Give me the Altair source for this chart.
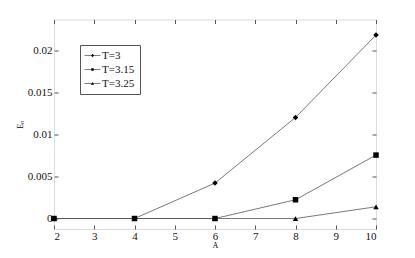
import altair as alt
import pandas as pd

A_values = [2, 4, 6, 8, 10]
series_names = ["T=3", "T=3.15", "T=3.25"]
E_T3 = [0.0, 0.0, 0.00423, 0.01206, 0.0219]
E_T315 = [0.0, 0.0, 0.0, 0.00224, 0.00757]
E_T325 = [0.0, 0.0, 0.0, 0.0, 0.0014]
x_ticks = [2, 3, 4, 5, 6, 7, 8, 9, 10]
y_ticks = [0, 0.005, 0.01, 0.015, 0.02]

rows = []
for name, vals in zip(series_names, [E_T3, E_T315, E_T325]):
    for a, v in zip(A_values, vals):
        rows.append({"A": a, "E": v, "T": name})
df = pd.DataFrame(rows)

W, H = 322, 209.5
FONT = "Times New Roman, Liberation Serif, serif"
xs = alt.Scale(domain=[2, 10], nice=False)
ys = alt.Scale(domain=[-0.00125, 0.02375], nice=False)

base = alt.Chart(df)

lines = base.mark_line(color="#555555", strokeWidth=0.8).encode(
    x=alt.X("A:Q", scale=xs, axis=alt.Axis(values=x_ticks, ticks=False, domain=False, grid=False,
                                           title="A", titleFontSize=8, titleFont=FONT, titleFontWeight="normal",
                                           titlePadding=0, labelFont=FONT, labelFontSize=11, labelPadding=1,
                                           labelColor="#111")),
    y=alt.Y("E:Q", scale=ys, axis=alt.Axis(values=y_ticks, ticks=False, domain=False, grid=False,
                                           format="~g", title="Eₙ", titleFontSize=8, titleFont=FONT,
                                           titleFontWeight="normal", titlePadding=3, labelFont=FONT,
                                           labelFontSize=11, labelPadding=2, labelColor="#111")),
    detail="T:N",
)

points = base.mark_point(filled=True, color="black", opacity=1, size=30).encode(
    x=alt.X("A:Q", scale=xs, axis=alt.Axis(orient="top", offset=-H, values=x_ticks, labels=False,
                                           ticks=True, tickSize=4, tickColor="#555", domain=False,
                                           grid=False, title=None)),
    y=alt.Y("E:Q", scale=ys, axis=alt.Axis(orient="right", offset=-W, values=y_ticks, labels=False,
                                           ticks=True, tickSize=4, tickColor="#555", domain=False,
                                           grid=False, title=None)),
    shape=alt.Shape("T:N", scale=alt.Scale(domain=series_names, range=["diamond", "square", "triangle-up"]),
                    legend=None),
)

legend_paths = [
    "M-1.6,-0.07H1.6V0.07H-1.6ZM0,-0.36L0.3,0L0,0.36L-0.3,0Z",
    "M-1.6,-0.07H1.6V0.07H-1.6ZM-0.25,-0.25H0.25V0.25H-0.25Z",
    "M-1.6,-0.07H1.6V0.07H-1.6ZM0,-0.32L0.32,0.26H-0.32Z",
]

legend_layer = base.mark_point(filled=True, color="black", opacity=0).encode(
    x=alt.X("A:Q", scale=xs, axis=alt.Axis(orient="bottom", offset=-H, values=x_ticks, labels=False,
                                           ticks=True, tickSize=4, tickColor="#555", domain=False,
                                           grid=False, title=None)),
    y=alt.Y("E:Q", scale=ys, axis=alt.Axis(orient="left", offset=-W, values=y_ticks, labels=False,
                                           ticks=True, tickSize=4, tickColor="#555", domain=False,
                                           grid=False, title=None)),
    shape=alt.Shape("T:N", scale=alt.Scale(domain=series_names, range=legend_paths),
                    legend=alt.Legend(title=None, orient="none", legendX=26, legendY=25.5,
                                      symbolSize=100, symbolFillColor="#111", symbolStrokeWidth=0,
                                      symbolOpacity=1, symbolOffset=2, labelFont=FONT,
                                      labelFontSize=11, labelColor="#111", rowPadding=2,
                                      labelOffset=4, strokeColor="#555", padding=5,
                                      fillColor="white")),
)

chart = alt.layer(lines, points, legend_layer).resolve_scale(
    shape="independent"
).resolve_axis(x="independent", y="independent").properties(
    width=W, height=H, autosize=alt.AutoSizeParams(type="none"),
    padding={"left": 46, "top": 11.5, "right": 31, "bottom": 21},
).configure_view(stroke="#555555", strokeWidth=1).configure(background="white")

chart.save("out.html", embed_options={"renderer": "svg", "actions": False})
